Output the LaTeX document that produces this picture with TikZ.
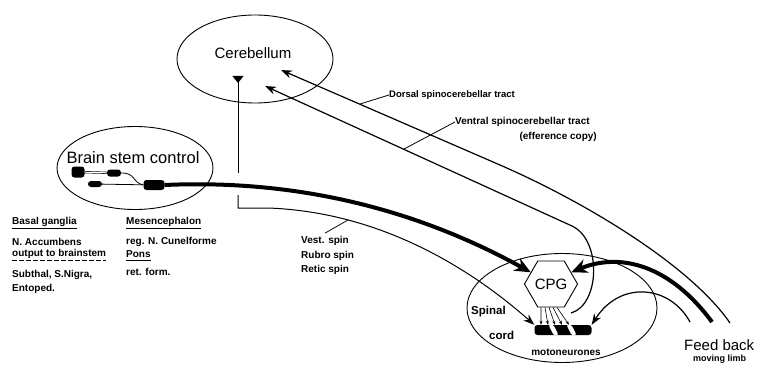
\documentclass[tikz,border=0pt]{standalone}
\usepackage{fontspec}
\setmainfont{Liberation Sans}
\usetikzlibrary{arrows.meta, positioning, shapes.geometric, calc}

\begin{document}
\begin{tikzpicture}[
  x=1pt, y=-1pt,
  >=Stealth,
  region/.style={draw, ellipse, line width=0.9pt, inner sep=0pt},
  big/.style={inner sep=0pt, font=\fontsize{15}{18}\selectfont},
  lab/.style={inner sep=0pt, anchor=west, font=\bfseries\fontsize{10}{12}\selectfont},
  blob/.style={fill=black, rounded corners=3pt, inner sep=0pt},
  fine/.style={line width=0.8pt},
  tract/.style={line width=1.2pt},
  heavy/.style={line width=4pt},
  arr/.style={-{Stealth[length=11pt, width=8pt]}},
  bigarr/.style={-{Stealth[length=16pt, width=14pt]}},
  uline/.style={line width=1.2pt},
]
\useasboundingbox (0,0) rectangle (761,369);

% --- Cerebellum ---
\node[region, minimum width=156pt, minimum height=88pt] (cereb) at (255,59) {};
\node[big] (cerebtxt) at (253,53) {Cerebellum};

% --- Brain stem control ---
\node[region, minimum width=156pt, minimum height=83pt] (brain) at (135,168) {};
\node[big, font=\fontsize{16.5}{19}\selectfont] (braintxt) at (133,158) {Brain stem control};
\node[blob, minimum width=13pt, minimum height=11pt] (bs1) at (78,172) {};
\node[blob, minimum width=14pt, minimum height=7pt] (bs2) at (114,173) {};
\node[blob, minimum width=14pt, minimum height=6pt] (bs3) at (95,184) {};
\node[blob, minimum width=21pt, minimum height=10pt] (bs4) at (154,185) {};
\draw[line width=0.6pt, double, double distance=1pt] (bs1) -- (bs2);
\draw[fine] (bs2.east) .. controls +(15,0) and +(-12,-3) .. (bs4.west);
\draw[fine] (bs3) -- (bs4);

% --- Spinal cord ---
\node[region, minimum width=190pt, minimum height=109pt] (spinal) at (562,308) {};
\node[lab, font=\bfseries\fontsize{11.5}{13}\selectfont] (spinaltxt) at (471,312) {Spinal};
\node[lab, font=\bfseries\fontsize{11.5}{13}\selectfont] (cordtxt) at (489,335) {cord};

% --- CPG and motoneurones ---
\node[draw, fill=white, regular polygon, regular polygon sides=6, minimum size=44pt, inner sep=0pt,
  line width=0.9pt, font=\fontsize{15}{18}\selectfont] (cpg) at (551,284) {CPG};
\node[fill=black, rounded corners=3pt, minimum width=57pt, minimum height=10pt, inner sep=0pt,
  path picture={
    \foreach \st in {-9,9}
      \fill[white] ($(path picture bounding box.center)+(\st-6,-6)$) -- ++(5,0) -- ++(6,12) -- ++(-5,0) -- cycle;
  }] (moto) at (563,330) {};
\node[lab, anchor=center] (mototxt) at (566,352) {motoneurones};
\foreach \xa/\xb in {-10/-22, -6/-15, -2/-8, 2/-1, 6/6}
  \draw[line width=0.6pt, -{Stealth[length=4pt, width=3pt]}] ($(cpg.south)+(\xa,0)$) -- ($(moto.north)+(\xb,0)$);

% --- Descending tracts ---
\coordinate (dtop) at (238,76);
\coordinate (gapa) at (238,173);
\coordinate (gapb) at (238,195);
\coordinate (corner) at (238,208);
\coordinate (vsptr) at (348,220);
\draw[line width=1pt, {Triangle[reversed, length=7pt, width=11pt]}-] (dtop) -- (gapa);
\draw[line width=1pt, arr] (gapb) -- (corner) -- (268,208) .. controls (380,212) and (470,268) .. (moto.north west);
\node[lab] (vest) at (301,241) {Vest. spin};
\node[lab, below=15pt of vest.west, anchor=west] (rubro) {Rubro spin};
\node[lab, below=14pt of rubro.west, anchor=west] (retic) {Retic spin};
\draw[fine] (vsptr) -- ([xshift=24pt, yshift=3pt]vest.north west);

% --- Spinocerebellar tracts ---
\coordinate (dsrc) at (730,323);
\coordinate (dtip) at (281,70);
\coordinate (dptr) at (360,104);
\draw[tract, arr] (dsrc) .. controls (690,265) and (585,202) .. (500,165) -- (dtip);
\node[lab, font=\bfseries\fontsize{9.5}{11}\selectfont] (dorsal) at (389,95) {Dorsal spinocerebellar tract};
\draw[fine] (dptr) -- (dorsal.west);

\coordinate (vsrc) at (571,313);
\coordinate (vbend) at (572,226);
\coordinate (vtip) at (265,86);
\coordinate (vptr) at (404,149);
\draw[tract, arr] (vsrc) .. controls (600,305) and (602,240) .. (vbend) -- (vtip);
\node[lab] (ventral) at (455,122) {Ventral spinocerebellar tract};
\node[lab, anchor=east] (effcopy) at (597,137) {(efference copy)};
\draw[fine] (vptr) -- (ventral.west);

% --- Drive and feedback ---
\draw[heavy, bigarr] (bs4.east) .. controls (320,178) and (440,222) .. (cpg.150);
\coordinate (fbthick) at (712,322);
\coordinate (fbthin) at (690,322);
\draw[heavy, bigarr] (fbthick) .. controls (670,265) and (620,252) .. (cpg.30);
\draw[tract, arr] (fbthin) .. controls (670,285) and (620,280) .. (moto.north east);
\node[big, anchor=west] (feed) at (684,345) {Feed back};
\node[lab, font=\bfseries\fontsize{9}{11}\selectfont] (limb) at (693,359) {moving limb};

% --- Left labels ---
\node[lab] (bg) at (12,222) {Basal ganglia};
\draw[uline] ([yshift=-1.5pt]bg.south west) -- ([yshift=-1.5pt]bg.south east);
\node[lab] (acc) at (12,242) {N. Accumbens};
\node[lab] (outp) at (12,254) {output to brainstem};
\draw[uline, dash pattern=on 5pt off 2pt] ([yshift=-2pt]outp.south west) -- ([yshift=-2pt]outp.south east);
\node[lab] (subth) at (12,275) {Subthal, S.Nigra,};
\node[lab] (entop) at (12,289) {Entoped.};

\node[lab] (mes) at (126,222) {Mesencephalon};
\draw[uline] ([yshift=-1.5pt]mes.south west) -- ([yshift=-1.5pt]mes.south east);
\node[lab] (cune) at (126,242) {reg. N. Cunelforme};
\node[lab] (pons) at (126,254) {Pons};
\draw[uline] ([yshift=-3pt]pons.south west) -- ([yshift=-3pt]pons.south east);
\node[lab] (ret) at (126,272) {ret. form.};

\end{tikzpicture}
\end{document}
